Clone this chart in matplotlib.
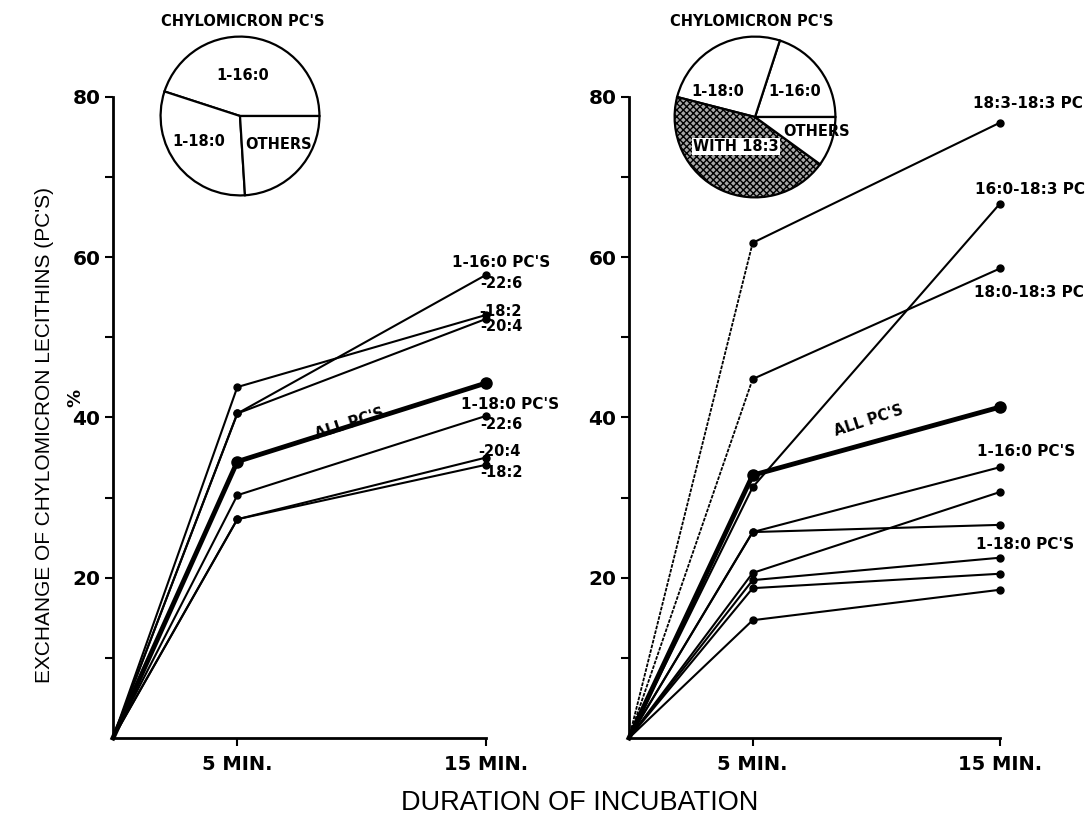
import matplotlib
matplotlib.use("Agg")
import matplotlib.pyplot as plt

# time points (min)
times = [0, 5, 15]

# left panel: exchange of chylomicron PC's (%)
left_all_pcs = [0, 34.5, 44.3]
left_16_226 = [0, 40.5, 57.8]
left_16_182 = [0, 43.8, 52.8]
left_16_204 = [0, 40.5, 52.3]
left_18_226 = [0, 30.3, 40.2]
left_18_204 = [0, 27.3, 35.0]
left_18_182 = [0, 27.3, 34.1]

# right panel
right_all_pcs = [0, 32.8, 41.3]
right_183_183 = [0, 61.8, 76.8]
right_160_183 = [0, 31.3, 66.7]
right_180_183 = [0, 44.8, 58.6]
right_16_a = [0, 25.7, 33.8]
right_16_b = [0, 20.6, 30.7]
right_16_c = [0, 25.7, 26.6]
right_18_a = [0, 19.7, 22.5]
right_18_b = [0, 18.7, 20.5]
right_18_c = [0, 14.7, 18.5]

# pie insets (% of chylomicron PC's)
pie_left_labels = ["1-16:0", "1-18:0", "OTHERS"]
pie_left_values = [45, 31, 24]
pie_right_labels = ["1-16:0", "1-18:0", "WITH 18:3", "OTHERS"]
pie_right_values = [20, 26, 44, 10]

yticks = [10, 20, 30, 40, 50, 60, 70, 80]
xticks = [5, 15]
xtick_labels = ["5 MIN.", "15 MIN."]

BOLD = dict(family="DejaVu Sans", weight="bold")
W, H = 1091, 819


def draw_series(ax, y, lw=1.5, ms=5, first_ls="-", first_lw=None):
    ax.plot(times[:2], y[:2], color="k", lw=first_lw or lw, ls=first_ls, clip_on=False)
    ax.plot(times[1:], y[1:], color="k", lw=lw, clip_on=False)
    ax.plot(times[1:], y[1:], "o", color="k", ms=ms, clip_on=False)


def setup_axes(ax):
    ax.set_xlim(0, 15)
    ax.set_ylim(0, 80)
    for s in ("top", "right"):
        ax.spines[s].set_visible(False)
    for s in ("left", "bottom"):
        ax.spines[s].set_linewidth(2)
    ax.set_yticks(yticks)
    ax.set_yticklabels(["" if v % 20 else str(v) for v in yticks], **BOLD)
    ax.set_xticks(xticks)
    ax.set_xticklabels(xtick_labels, **BOLD)
    ax.tick_params(axis="y", direction="out", length=6, width=1.5, labelsize=14.5, pad=3)
    ax.tick_params(axis="x", direction="out", length=6, width=1.5, labelsize=14, pad=6)


def label(ax, x, y, s, size=11, **kw):
    ax.text(x, y, s, fontsize=size, va="center", ha="left", clip_on=False, **BOLD, **kw)


fig = plt.figure(figsize=(W / 100, H / 100), dpi=100)

axL = fig.add_axes([113 / W, 1 - 738 / H, 373 / W, 641 / H])
axR = fig.add_axes([629 / W, 1 - 738 / H, 371 / W, 641 / H])
setup_axes(axL)
setup_axes(axR)

# ---- left panel ----
for y in (left_16_226, left_16_182, left_16_204, left_18_226, left_18_204, left_18_182):
    draw_series(axL, y)
draw_series(axL, left_all_pcs, lw=3.5, ms=8)

label(axL, 13.63, 59.3, "1-16:0 PC'S")
label(axL, 14.76, 56.7, "-22:6", 10.5)
label(axL, 14.72, 53.2, "-18:2", 10.5)
label(axL, 14.76, 51.3, "-20:4", 10.5)
label(axL, 14.0, 41.6, "1-18:0 PC'S")
label(axL, 14.76, 39.1, "-22:6", 10.5)
label(axL, 14.68, 35.7, "-20:4", 10.5)
label(axL, 14.76, 33.1, "-18:2", 10.5)
axL.text(9.5, 39.2, "ALL PC'S", fontsize=10.5, rotation=18, ha="center", va="center", **BOLD)

# ---- right panel ----
dots = (0, (2, 0.7))
draw_series(axR, right_183_183, first_ls=dots, first_lw=1.3)
draw_series(axR, right_180_183, first_ls=dots, first_lw=1.3)
for y in (right_160_183, right_16_a, right_16_b, right_16_c, right_18_a, right_18_b, right_18_c):
    draw_series(axR, y)
draw_series(axR, right_all_pcs, lw=3.5, ms=8)

label(axR, 13.91, 79.2, "18:3-18:3 PC")
label(axR, 13.99, 68.5, "16:0-18:3 PC")
label(axR, 13.95, 55.6, "18:0-18:3 PC")
label(axR, 14.07, 35.7, "1-16:0 PC'S")
label(axR, 14.03, 24.2, "1-18:0 PC'S")
axR.text(9.7, 39.6, "ALL PC'S", fontsize=10.5, rotation=18, ha="center", va="center", **BOLD)

# ---- pies ----
def draw_pie(cx, cy, r, values, names, positions, hatched=None):
    ax = fig.add_axes([(cx - r) / W, 1 - (cy + r) / H, 2 * r / W, 2 * r / H])
    wedges, _ = ax.pie(values, startangle=0, counterclock=True,
                       wedgeprops=dict(facecolor="white", edgecolor="k", linewidth=1.6))
    if hatched is not None:
        wedges[hatched].set_facecolor("#a8a8a8")
        wedges[hatched].set_hatch("xxxxx")
    ax.set_xlim(-1.02, 1.02)
    ax.set_ylim(-1.02, 1.02)
    ax.set_aspect("equal")
    ax.axis("off")
    for name, (px, py) in zip(names, positions):
        box = None
        if hatched is not None and name == names[hatched]:
            box = dict(facecolor="white", edgecolor="none", pad=0.8)
        ax.text(px, py, name, fontsize=10.5, ha="center", va="center",
                clip_on=False, bbox=box, **BOLD)
    return ax


draw_pie(240, 116, 81, pie_left_values, pie_left_labels,
         [(0.04, 0.51), (-0.52, -0.32), (0.49, -0.36)])
draw_pie(755, 117, 82, pie_right_values, pie_right_labels,
         [(0.49, 0.32), (-0.46, 0.32), (-0.24, -0.37), (0.76, -0.18)], hatched=2)

fig.text(243 / W, 1 - 22 / H, "CHYLOMICRON PC'S", fontsize=10.5, ha="center", va="center", **BOLD)
fig.text(752 / W, 1 - 22 / H, "CHYLOMICRON PC'S", fontsize=10.5, ha="center", va="center", **BOLD)

# axis titles
fig.text(45 / W, 1 - 435 / H, "EXCHANGE OF CHYLOMICRON LECITHINS (PC'S)",
         rotation=90, ha="center", va="center", fontsize=15, family="Liberation Sans")
fig.text(75 / W, 1 - 398 / H, "%", rotation=90, ha="center", va="center",
         fontsize=13, **BOLD)
fig.text(580 / W, 1 - 803 / H, "DURATION OF INCUBATION", ha="center", va="center",
         fontsize=19.5, family="Liberation Sans")

fig.savefig("out.png", dpi=100, facecolor="white")
